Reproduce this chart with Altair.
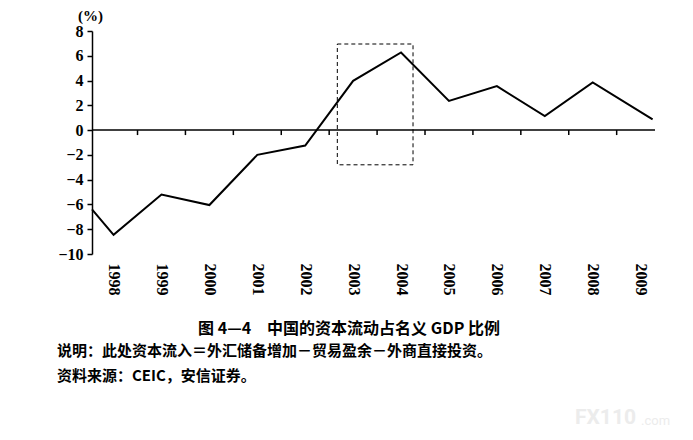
import altair as alt
import pandas as pd

# data
years = [1997.55, 1998, 1999, 2000, 2001, 2002, 2003, 2004, 2005, 2006, 2007, 2008, 2009.25]
values = [-6.4, -8.45, -5.2, -6.05, -2.0, -1.25, 3.98, 6.27, 2.36, 3.55, 1.13, 3.85, 0.86]
label_years = [1998, 1999, 2000, 2001, 2002, 2003, 2004, 2005, 2006, 2007, 2008, 2009]
tick_years = [1998.5, 1999.5, 2000.5, 2001.5, 2002.5, 2003.5, 2004.5, 2005.5, 2006.5, 2007.5, 2008.5]
y_ticks = [-10, -8, -6, -4, -2, 0, 2, 4, 6, 8]
box_x = [2002.67]
box_x2 = [2004.25]
box_y = [-2.8]
box_y2 = [6.95]

title_text = "图 4—4　中国的资本流动占名义 GDP 比例"
note_text = "说明：此处资本流入＝外汇储备增加－贸易盈余－外商直接投资。"
source_text = "资料来源：CEIC，安信证券。"

df = pd.DataFrame({"year": years, "value": values})
box = pd.DataFrame({"x": box_x, "x2": box_x2, "y": box_y, "y2": box_y2})
ticks = pd.DataFrame({"t": tick_years})
one = pd.DataFrame({"a": [0]})

W, H = 563, 223
xscale = alt.Scale(domain=[1997.55, 2009.3], nice=False, zero=False)
yscale = alt.Scale(domain=[-10, 8], nice=False)
serif = "Liberation Serif"

x_axis = alt.Axis(orient="bottom", values=label_years, format="d", labelAngle=90,
                  labelFont=serif, labelFontSize=16, labelFontWeight="bold",
                  labelColor="black", ticks=False, domain=False, grid=False,
                  labelPadding=9, title=None, labelOverlap=False, labelFlush=False)
y_axis = alt.Axis(values=y_ticks, format="d", labelFont=serif, labelFontSize=16,
                  labelFontWeight="bold", labelColor="black", tickSize=5,
                  tickColor="black", tickWidth=1.5, domainColor="black",
                  domainWidth=1.5, grid=False, labelPadding=4,
                  labelOverlap=False, labelFlush=False,
                  title="(%)", titleAngle=0, titleX=-2, titleY=-16,
                  titleAlign="center", titleBaseline="middle",
                  titleFont=serif, titleFontSize=15, titleFontWeight="bold",
                  titleColor="black")

line = alt.Chart(df).mark_line(color="black", strokeWidth=2).encode(
    x=alt.X("year:Q", scale=xscale, axis=x_axis),
    y=alt.Y("value:Q", scale=yscale, axis=y_axis),
)

zero_line = alt.Chart(one).mark_rule(color="black", strokeWidth=1.5).encode(
    x=alt.value(0), x2=alt.value(W), y=alt.Y(datum=0, scale=yscale, axis=y_axis)
)

tick_marks = alt.Chart(ticks).mark_rule(color="black", strokeWidth=1.5).encode(
    x=alt.X("t:Q", scale=xscale, axis=x_axis),
    y=alt.Y(datum=0, scale=yscale, axis=y_axis),
    y2=alt.Y2(datum=-0.4),
)

rect = alt.Chart(box).mark_rect(fill=None, stroke="black", strokeWidth=1,
                                strokeDash=[4, 3]).encode(
    x=alt.X("x:Q", scale=xscale, axis=x_axis),
    x2="x2:Q",
    y=alt.Y("y:Q", scale=yscale, axis=y_axis),
    y2="y2:Q",
)

cjk = "Noto Sans CJK SC"
t1 = alt.Chart(one).mark_text(text=title_text, font=cjk, fontSize=16, fontWeight="bold",
                              align="center", baseline="middle", color="black").encode(
    x=alt.value(257), y=alt.value(298))
t2 = alt.Chart(one).mark_text(text=note_text, font=cjk, fontSize=15, fontWeight="bold",
                              align="left", baseline="middle", color="black").encode(
    x=alt.value(-35), y=alt.value(320))
t3 = alt.Chart(one).mark_text(text=source_text, font=cjk, fontSize=15, fontWeight="bold",
                              align="left", baseline="middle", color="black").encode(
    x=alt.value(-35), y=alt.value(345))
wm1 = alt.Chart(one).mark_text(text="FX110", font="Roboto", fontSize=21, fontWeight="bold",
                               align="left", baseline="middle", color="#ececec").encode(
    x=alt.value(483), y=alt.value(387))
wm2 = alt.Chart(one).mark_text(text=".com", font="Roboto", fontSize=13,
                               align="left", baseline="middle", color="#ececec").encode(
    x=alt.value(549), y=alt.value(390))

chart = alt.layer(line, zero_line, tick_marks, rect, t1, t2, t3, wm1, wm2).properties(
    width=W, height=H,
    autosize=alt.AutoSizeParams(type="none"),
    padding={"left": 84, "top": 23, "right": 30, "bottom": 178},
    background="white",
).configure_view(stroke=None).configure_axis(labelOverlap=False)

chart.save("out.html", embed_options={"renderer": "svg", "actions": False})
